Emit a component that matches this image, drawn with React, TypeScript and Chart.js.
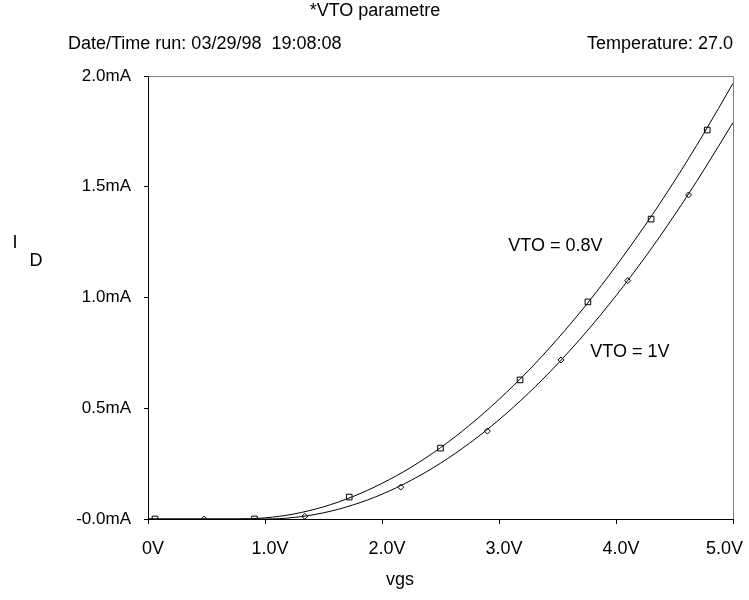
import React, { useEffect, useRef } from "react";
import { Chart, registerables } from "chart.js";
Chart.register(...registerables);

const FONT = "'Liberation Sans', Arial, Helvetica, sans-serif";

const vgs = [0, 0.25, 0.5, 0.75, 1.0, 1.25, 1.5, 1.75, 2.0, 2.25, 2.5, 2.75, 3.0, 3.25, 3.5, 3.75, 4.0, 4.25, 4.5, 4.75, 5.0];
const idVto08 = [0, 0, 0, 0, 0.005, 0.023, 0.055, 0.101, 0.161, 0.234, 0.322, 0.424, 0.540, 0.669, 0.813, 0.970, 1.142, 1.327, 1.526, 1.740, 1.967];
const idVto1 = [0, 0, 0, 0, 0, 0.007, 0.028, 0.063, 0.112, 0.175, 0.252, 0.343, 0.448, 0.567, 0.700, 0.847, 1.008, 1.183, 1.372, 1.575, 1.790];

const markerVgs08 = [0.06, 0.91, 1.72, 2.5, 3.18, 3.76, 4.3, 4.78];
const markerId08 = [0, 0, 0.099, 0.32, 0.628, 0.98, 1.354, 1.756];
const markerVgs1 = [0.48, 1.34, 2.16, 2.9, 3.53, 4.1, 4.62];
const markerId1 = [0, 0.012, 0.144, 0.397, 0.718, 1.076, 1.463];

const xTickValues = [0, 1, 2, 3, 4, 5];
const xTickLabels = ["0V", "1.0V", "2.0V", "3.0V", "4.0V", "5.0V"];
const yTickValues = [0, 0.5, 1.0, 1.5, 2.0];
const yTickLabels = ["-0.0mA", "0.5mA", "1.0mA", "1.5mA", "2.0mA"];

const titleText = "*VTO parametre";
const dateText = "Date/Time run: 03/29/98  19:08:08";
const tempText = "Temperature: 27.0";
const xTitle = "vgs";
const curveLabels = [
  { text: "VTO = 0.8V", x: 3.08, y: 1.232 },
  { text: "VTO = 1V", x: 3.78, y: 0.754 },
];

const toXY = (xs: number[], ys: number[]) => xs.map((x, i) => ({ x, y: ys[i] }));

const overlay = {
  id: "overlay",
  afterDraw(chart: any) {
    const { ctx, chartArea: a, scales } = chart;
    const sx = scales.x;
    const sy = scales.y;
    ctx.save();
    ctx.strokeStyle = "#7f7f7f";
    ctx.lineWidth = 1;
    ctx.beginPath();
    ctx.moveTo(Math.round(a.left) + 0.5, Math.round(a.top) + 0.5);
    ctx.lineTo(Math.round(a.right) + 0.5, Math.round(a.top) + 0.5);
    ctx.lineTo(Math.round(a.right) + 0.5, Math.round(a.bottom));
    ctx.stroke();

    ctx.fillStyle = "#000";
    ctx.font = `18px ${FONT}`;
    ctx.textBaseline = "middle";
    ctx.textAlign = "center";
    ctx.fillText(titleText, 375, 11);
    ctx.textAlign = "left";
    ctx.fillText(dateText, 68, 44);
    ctx.textAlign = "right";
    ctx.fillText(tempText, a.right, 44);

    xTickValues.forEach((v, i) => {
      const px = sx.getPixelForValue(v);
      if (i === xTickValues.length - 1) {
        ctx.textAlign = "right";
        ctx.fillText(xTickLabels[i], px + 10, a.bottom + 30);
      } else {
        ctx.textAlign = "center";
        ctx.fillText(xTickLabels[i], px + 5, a.bottom + 30);
      }
    });

    ctx.textAlign = "center";
    ctx.fillText(xTitle, 400, a.bottom + 61);
    ctx.fillText("I", 15, 243);
    ctx.fillText("D", 36, 261);

    ctx.textAlign = "left";
    curveLabels.forEach((l) => {
      ctx.fillText(l.text, sx.getPixelForValue(l.x), sy.getPixelForValue(l.y));
    });
    ctx.restore();
  },
};

export default function App() {
  const ref = useRef<HTMLCanvasElement>(null);
  useEffect(() => {
    if (!ref.current) return;
    const chart = new Chart(ref.current, {
      type: "scatter",
      data: {
        datasets: [
          {
            data: toXY(vgs, idVto08),
            showLine: true,
            borderColor: "#000",
            borderWidth: 1,
            pointRadius: 0,
            cubicInterpolationMode: "monotone",
          },
          {
            data: toXY(vgs, idVto1),
            showLine: true,
            borderColor: "#000",
            borderWidth: 1,
            pointRadius: 0,
            cubicInterpolationMode: "monotone",
          },
          {
            data: toXY(markerVgs08, markerId08),
            showLine: false,
            pointStyle: "rect",
            pointRadius: 4,
            borderColor: "#000",
            borderWidth: 1,
            backgroundColor: "#fff",
          },
          {
            data: toXY(markerVgs1, markerId1),
            showLine: false,
            pointStyle: "rectRot",
            pointRadius: 3,
            borderColor: "#000",
            borderWidth: 1,
            backgroundColor: "#fff",
          },
        ],
      } as any,
      options: {
        responsive: false,
        animation: false,
        layout: { padding: { left: 0, top: 76, right: 16, bottom: 0 } },
        plugins: { legend: { display: false }, tooltip: { enabled: false }, title: { display: false } },
        scales: {
          x: {
            type: "linear",
            min: 0,
            max: 5,
            afterBuildTicks: (s: any) => {
              s.ticks = xTickValues.map((v) => ({ value: v }));
            },
            ticks: { display: false },
            grid: { drawOnChartArea: false, drawTicks: true, tickLength: 5, color: "#000" },
            border: { display: true, color: "#000", width: 1 },
            afterFit: (s: any) => {
              s.height = 81;
            },
          },
          y: {
            type: "linear",
            min: 0,
            max: 2,
            afterBuildTicks: (s: any) => {
              s.ticks = yTickValues.map((v) => ({ value: v }));
            },
            ticks: {
              color: "#000",
              font: { family: FONT, size: 17 },
              padding: 13,
              callback: (v: any) => {
                const i = yTickValues.indexOf(Number(v));
                return i >= 0 ? yTickLabels[i] : "";
              },
            },
            grid: { drawOnChartArea: false, drawTicks: true, tickLength: 4, color: "#000" },
            border: { display: true, color: "#000", width: 1 },
            afterFit: (s: any) => {
              s.width = 148;
            },
          },
        },
      } as any,
      plugins: [overlay],
    });
    return () => chart.destroy();
  }, []);
  return (
    <canvas
      ref={ref}
      width={749}
      height={600}
      style={{ position: "absolute", left: 0, top: 0, width: 749, height: 600, background: "#fff" }}
    />
  );
}
